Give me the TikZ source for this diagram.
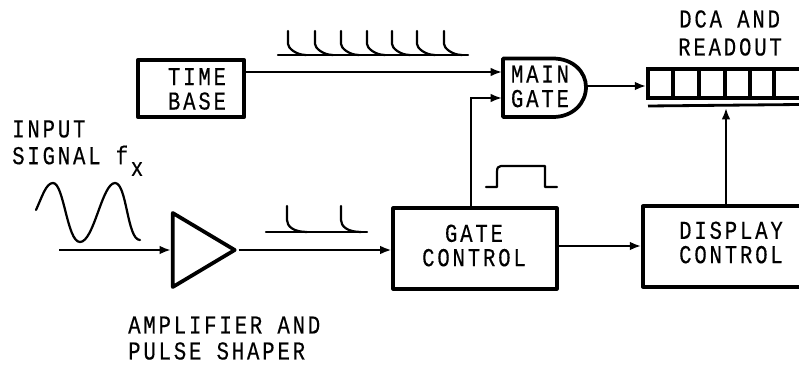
\documentclass[tikz,border=0pt]{standalone}
\usepackage{fontspec}
\setmonofont[FakeStretch=0.8,LetterSpace=11,FakeBold=0.4]{Liberation Mono}
\usetikzlibrary{arrows.meta,positioning,shapes.geometric}

\begin{document}
\begin{tikzpicture}[
          x=0.03cm, y=-0.03cm,
          lbl/.style={font=\fontsize{22}{20.8}\selectfont\ttfamily, align=center, inner sep=0pt},
          lbll/.style={lbl, align=left, anchor=west},
          block/.style={draw, line width=3.2pt, line join=round, minimum width=#1, inner sep=0pt},
          sig/.style={line width=1.8pt, -{Latex[length=3.4mm, width=2.6mm]}},
          wave/.style={line width=1.9pt, line cap=round, line join=round}
      ]
        \clip[use as bounding box] (0,0) rectangle (799,365);
        % blocks
        \node[block=3.2cm, minimum height=1.71cm] (timebase) at (191,88.5) {};
        \node[lbl] (timetxt) at (197,89) {TIME\\BASE};
        \node[block=4.9cm, minimum height=2.41cm] (gatectrl) at (475,248.5) {};
        \node[lbl] (gatetxt) at (474,245.5) {GATE\\CONTROL};
        \node[block=5.28cm, minimum height=2.41cm] (dispctrl) at (731,246.5) {};
        \node[lbl] (disptxt) at (731,242.5) {DISPLAY\\CONTROL};
        \node[draw, line width=3.2pt, isosceles triangle, isosceles triangle apex angle=60,
              isosceles triangle stretches, minimum width=2.22cm, minimum height=1.86cm,
              inner sep=0pt, line join=round, anchor=apex] (amp) at (238.5,250) {};
        % main gate
        \draw[line width=3.2pt, line join=round] (503,58.5) -- (553,58.5)
          .. controls (573,58.5) and (586,72) .. (586,87)
          .. controls (586,103) and (573,117) .. (553,117) -- (503,117) -- cycle;
        \node[lbl] (maingate) at (540,86.5) {MAIN\\GATE};
        % register
        \node[draw, line width=3.2pt, minimum width=5.4cm, minimum height=0.86cm, inner sep=0pt] (dca) at (738,83.5) {};
        \foreach \sx in {673,699,725,750,774}
          \draw[line width=3pt] (\sx,69) -- (\sx,98);
        \coordinate (dcarule) at (726,108);
        \draw[line width=2.4pt] (648,106) -- (799,104.5);
        % connection points
        \coordinate (gatein1) at (502,72);
        \coordinate (gatein2) at (502,98);
        \coordinate (gateout) at (586,86);
        \coordinate (gatetap) at (471,207);
        \coordinate (disptap) at (726,205);
        \coordinate (sigin) at (59,250);
        \draw[sig] (timebase.east |- gatein1) -- (gatein1);
        \draw[sig] (gatetap) |- (gatein2);
        \draw[sig] (gateout) -- (dca.west |- gateout);
        \draw[sig] (disptap) -- (dcarule);
        \draw[sig] (sigin) -- (amp.west |- sigin);
        \draw[sig] (amp.apex) -- (gatectrl.west |- amp.apex);
        \draw[sig] (gatectrl.east |- 0,246) -- (dispctrl.west |- 0,246);
        % waveforms
        \draw[wave] (278,55) -- (468,55);
        \foreach \sx in {288,315,341,367,392,417,444}
          \draw[wave] (\sx,31) -- (\sx,44) .. controls (\sx,48) and (\sx+8,55) .. (\sx+18,55);
        \draw[wave] (266,232) -- (367,232);
        \foreach \sx in {287,341}
          \draw[wave] (\sx,206) -- (\sx,220) .. controls (\sx,226) and (\sx+6,232) .. (\sx+20,232);
        \draw[wave] (486,187) -- (497,187) -- (497,172) .. controls (497,168) and (498,166) .. (501,166)
          -- (545,166) -- (545,187) -- (557,187);
        \draw[wave] (36,210) .. controls (42,197) and (46,183) .. (53,183)
          .. controls (64,183) and (67,242) .. (80,242)
          .. controls (94,242) and (102,183) .. (115,183)
          .. controls (127,183) and (127,240) .. (140,240);
        % labels
        \node[lbll] (dcalbl) at (679,19) {DCA AND};
        \node[lbll] (readout) at (678,47) {READOUT};
        \node[lbll] (input) at (12,129) {INPUT};
        \node[lbll] (signal) at (12,155) {SIGNAL f};
        \node[lbl] (subx) at (137,169) {x};
        \node[lbll] (ampa) at (128,325) {AMPLIFIER AND};
        \node[lbll] (ampb) at (128,351) {PULSE SHAPER};
      \end{tikzpicture}
\end{document}
